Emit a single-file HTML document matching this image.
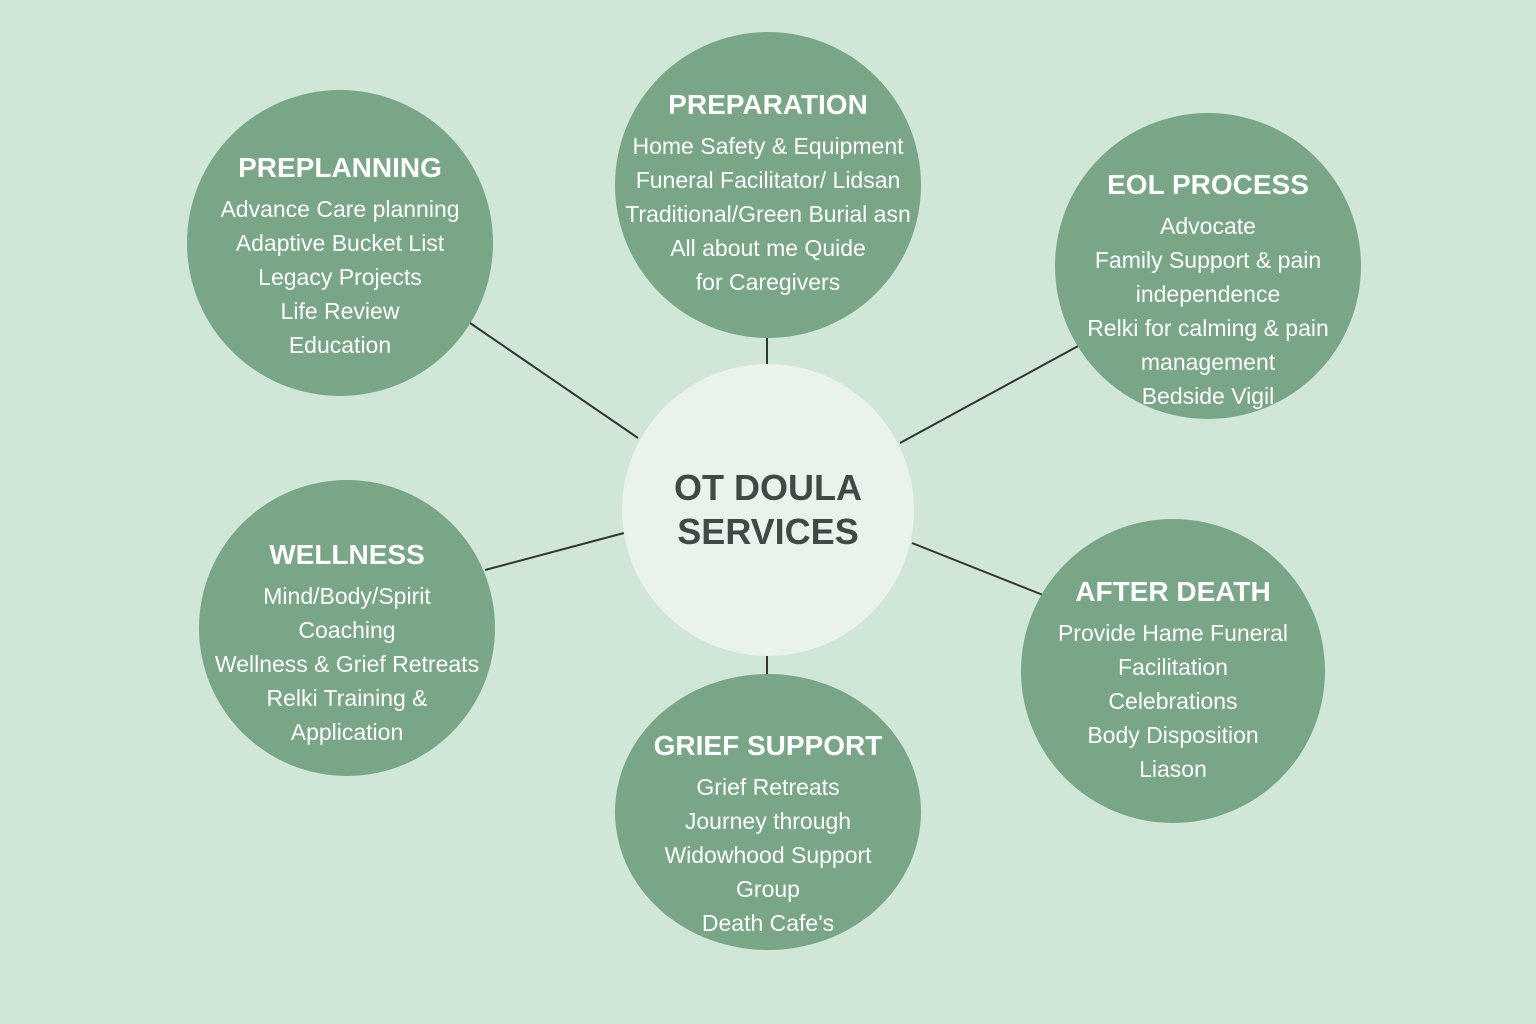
<!DOCTYPE html>
<html><head><meta charset="utf-8"><style>
html,body{margin:0;padding:0}
body{width:1536px;height:1024px;background:#d0e6d7;position:relative;overflow:hidden;font-family:"Liberation Sans","DejaVu Sans",sans-serif}
svg{position:absolute;left:0;top:0}
.c{position:absolute;border-radius:50%;background:#78a687;color:#fff;text-align:center;box-sizing:border-box}
.c .in{position:absolute;left:-20px;right:-20px;}
.h{font-weight:bold;font-size:28px;line-height:36px;margin-bottom:6px}
.b{font-size:23px;line-height:34px}
</style></head><body>
<svg width="1536" height="1024">
<g stroke="#333" stroke-width="2">
<line x1="470" y1="323" x2="638" y2="438"/>
<line x1="767" y1="336" x2="767" y2="366"/>
<line x1="1080" y1="345" x2="900" y2="443"/>
<line x1="485" y1="570" x2="624" y2="533"/>
<line x1="912" y1="543" x2="1043" y2="595"/>
<line x1="767" y1="654" x2="767" y2="676"/>
</g>
<circle cx="768" cy="510" r="146" fill="#e9f2eb"/>
<text x="768" y="500" text-anchor="middle" font-family="Liberation Sans,sans-serif" font-weight="bold" font-size="36" fill="#3f4a45">OT DOULA</text>
<text x="768" y="544" text-anchor="middle" font-family="Liberation Sans,sans-serif" font-weight="bold" font-size="36" fill="#3f4a45">SERVICES</text>
</svg>

<div class="c" style="left:615px;top:32px;width:306px;height:306px"><div class="in" style="top:55px"><div class="h">PREPARATION</div><div class="b">Home Safety &amp; Equipment<br>Funeral Facilitator/ Lidsan<br>Traditional/Green Burial asn<br>All about me Quide<br>for Caregivers</div></div></div>

<div class="c" style="left:187px;top:90px;width:306px;height:306px"><div class="in" style="top:60px"><div class="h">PREPLANNING</div><div class="b">Advance Care planning<br>Adaptive Bucket List<br>Legacy Projects<br>Life Review<br>Education</div></div></div>

<div class="c" style="left:1055px;top:113px;width:306px;height:306px"><div class="in" style="top:54px"><div class="h">EOL PROCESS</div><div class="b">Advocate<br>Family Support &amp; pain<br>independence<br>Relki for calming &amp; pain<br>management<br>Bedside Vigil</div></div></div>

<div class="c" style="left:199px;top:480px;width:296px;height:296px"><div class="in" style="top:57px"><div class="h">WELLNESS</div><div class="b">Mind/Body/Spirit<br>Coaching<br>Wellness &amp; Grief Retreats<br>Relki Training &amp;<br>Application</div></div></div>

<div class="c" style="left:1021px;top:519px;width:304px;height:304px"><div class="in" style="top:55px"><div class="h">AFTER DEATH</div><div class="b">Provide Hame Funeral<br>Facilitation<br>Celebrations<br>Body Disposition<br>Liason</div></div></div>

<div class="c" style="left:615px;top:674px;width:306px;height:276px;border-radius:50%"><div class="in" style="top:54px"><div class="h">GRIEF SUPPORT</div><div class="b">Grief Retreats<br>Journey through<br>Widowhood Support<br>Group<br>Death Cafe's</div></div></div>
</body></html>
